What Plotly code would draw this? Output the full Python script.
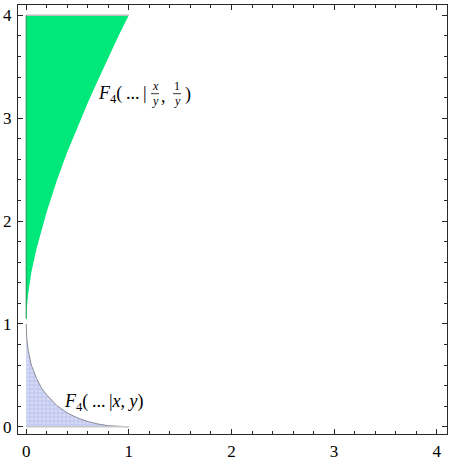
import plotly.graph_objects as go

# Boundary: upper (green) region lower edge, x in [0,1]
green_x = [0, 0.005, 0.02, 0.05, 0.1, 0.15, 0.2, 0.3, 0.4, 0.5, 0.6, 0.7, 0.8, 0.9, 1.0]
green_y = [1.0, 1.15, 1.30, 1.50, 1.73, 1.92, 2.09, 2.40, 2.67, 2.91, 3.15, 3.37, 3.59, 3.80, 4.0]
green_top = 4.0

# Lower (blue) region upper edge
blue_x = [0, 0.005, 0.02, 0.05, 0.1, 0.15, 0.2, 0.3, 0.4, 0.5, 0.6, 0.7, 0.8, 0.9, 1.0]
blue_y = [1.0, 0.86, 0.74, 0.60, 0.47, 0.375, 0.31, 0.205, 0.135, 0.086, 0.051, 0.027, 0.011, 0.003, 0.0]

tick_vals = [0, 1, 2, 3, 4]
tick_text = ["0", "1", "2", "3", "4"]

X_RANGE = [-0.08, 4.1]
Y_RANGE = [-0.07, 4.1]

fig = go.Figure()

# green region
gx = green_x + [green_x[-1], 0, 0]
gy = green_y + [green_top, green_top, green_y[0]]
fig.add_trace(go.Scatter(x=gx, y=gy, mode="lines", fill="toself",
                         fillcolor="rgb(0,232,122)", line=dict(width=0),
                         hoverinfo="skip", showlegend=False))
fig.add_trace(go.Scatter(x=[0, green_x[-1]], y=[green_top, green_top], mode="lines",
                         line=dict(color="rgb(190,190,190)", width=1.5),
                         hoverinfo="skip", showlegend=False))
fig.add_trace(go.Scatter(x=[0, 0], y=[green_y[0] + 0.05, green_top], mode="lines",
                         line=dict(color="rgb(20,150,70)", width=1),
                         hoverinfo="skip", showlegend=False))

# blue region
bx = blue_x + [0, 0]
by = blue_y + [0, blue_y[0]]
fig.add_trace(go.Scatter(x=bx, y=by, mode="lines", fill="toself",
                         fillcolor="rgb(196,202,240)",
                         fillpattern=dict(shape=".", bgcolor="rgb(196,202,240)",
                                          fgcolor="rgb(232,235,252)", size=4, solidity=0.35),
                         line=dict(width=0), hoverinfo="skip", showlegend=False))
fig.add_trace(go.Scatter(x=blue_x, y=blue_y, mode="lines",
                         line=dict(color="rgb(140,140,150)", width=1),
                         hoverinfo="skip", showlegend=False))
fig.add_trace(go.Scatter(x=[0, 1], y=[0, 0], mode="lines",
                         line=dict(color="rgb(200,200,200)", width=1.5),
                         hoverinfo="skip", showlegend=False))

# pixel helpers for label placement
def dx(px):
    return (px - 26) / 102.75

def dy(py):
    return (427 - py) / 103.0

FONT = "Liberation Serif"
ann = []
def add(text, px, py, size=18, xanchor="center"):
    ann.append(dict(text=text, x=dx(px), y=dy(py), xref="x", yref="y", showarrow=False,
                    xanchor=xanchor, yanchor="middle",
                    font=dict(family=FONT, size=size, color="black")))

TS = "&#8201;"
# label 1: F4(...| x/y , 1/y )
add("<i>F</i><sub>4</sub>(" + TS + "..." + TS + "|", 149, 94, xanchor="right")
add("<i>x</i>", 155, 86, size=12)
add("<i>y</i>", 155, 101, size=12)
add(",", 163, 96)
add("1", 177, 86, size=12)
add("<i>y</i>", 177, 101, size=12)
add(")", 188, 94)

# label 2
add("<i>F</i><sub>4</sub>(" + TS + "..." + TS + "|<i>x</i>, <i>y</i>)",
    62, 403, xanchor="left")

shapes = [
    dict(type="line", xref="x", yref="y", x0=dx(151), x1=dx(159), y0=dy(93.5), y1=dy(93.5),
         line=dict(color="black", width=0.8)),
    dict(type="line", xref="x", yref="y", x0=dx(173), x1=dx(181), y0=dy(93.5), y1=dy(93.5),
         line=dict(color="black", width=0.8)),
]

axis_common = dict(
    showgrid=False, zeroline=False, showline=True, linecolor="rgb(40,40,40)", linewidth=1,
    mirror="allticks", ticks="inside", ticklen=5, tickcolor="rgb(40,40,40)", tickwidth=1,
    tickvals=tick_vals, ticktext=tick_text,
    tickfont=dict(family=FONT, size=17, color="black"),
    minor=dict(dtick=0.2, ticks="inside", ticklen=3, tickcolor="rgb(40,40,40)", tickwidth=1, showgrid=False),
    automargin=False, fixedrange=True,
)

fig.update_layout(
    width=455, height=460,
    margin=dict(l=18, r=8, t=5, b=26),
    paper_bgcolor="white", plot_bgcolor="white",
    xaxis=dict(range=X_RANGE, **axis_common),
    yaxis=dict(range=Y_RANGE, **axis_common),
    annotations=ann, shapes=shapes,
)
fig.update_xaxes(ticklabelstandoff=2)
fig.update_yaxes(ticklabelstandoff=2)

fig.write_html("out.html", config={"displayModeBar": False},
               post_script="document.body.style.margin='0';document.body.style.overflow='hidden';")
